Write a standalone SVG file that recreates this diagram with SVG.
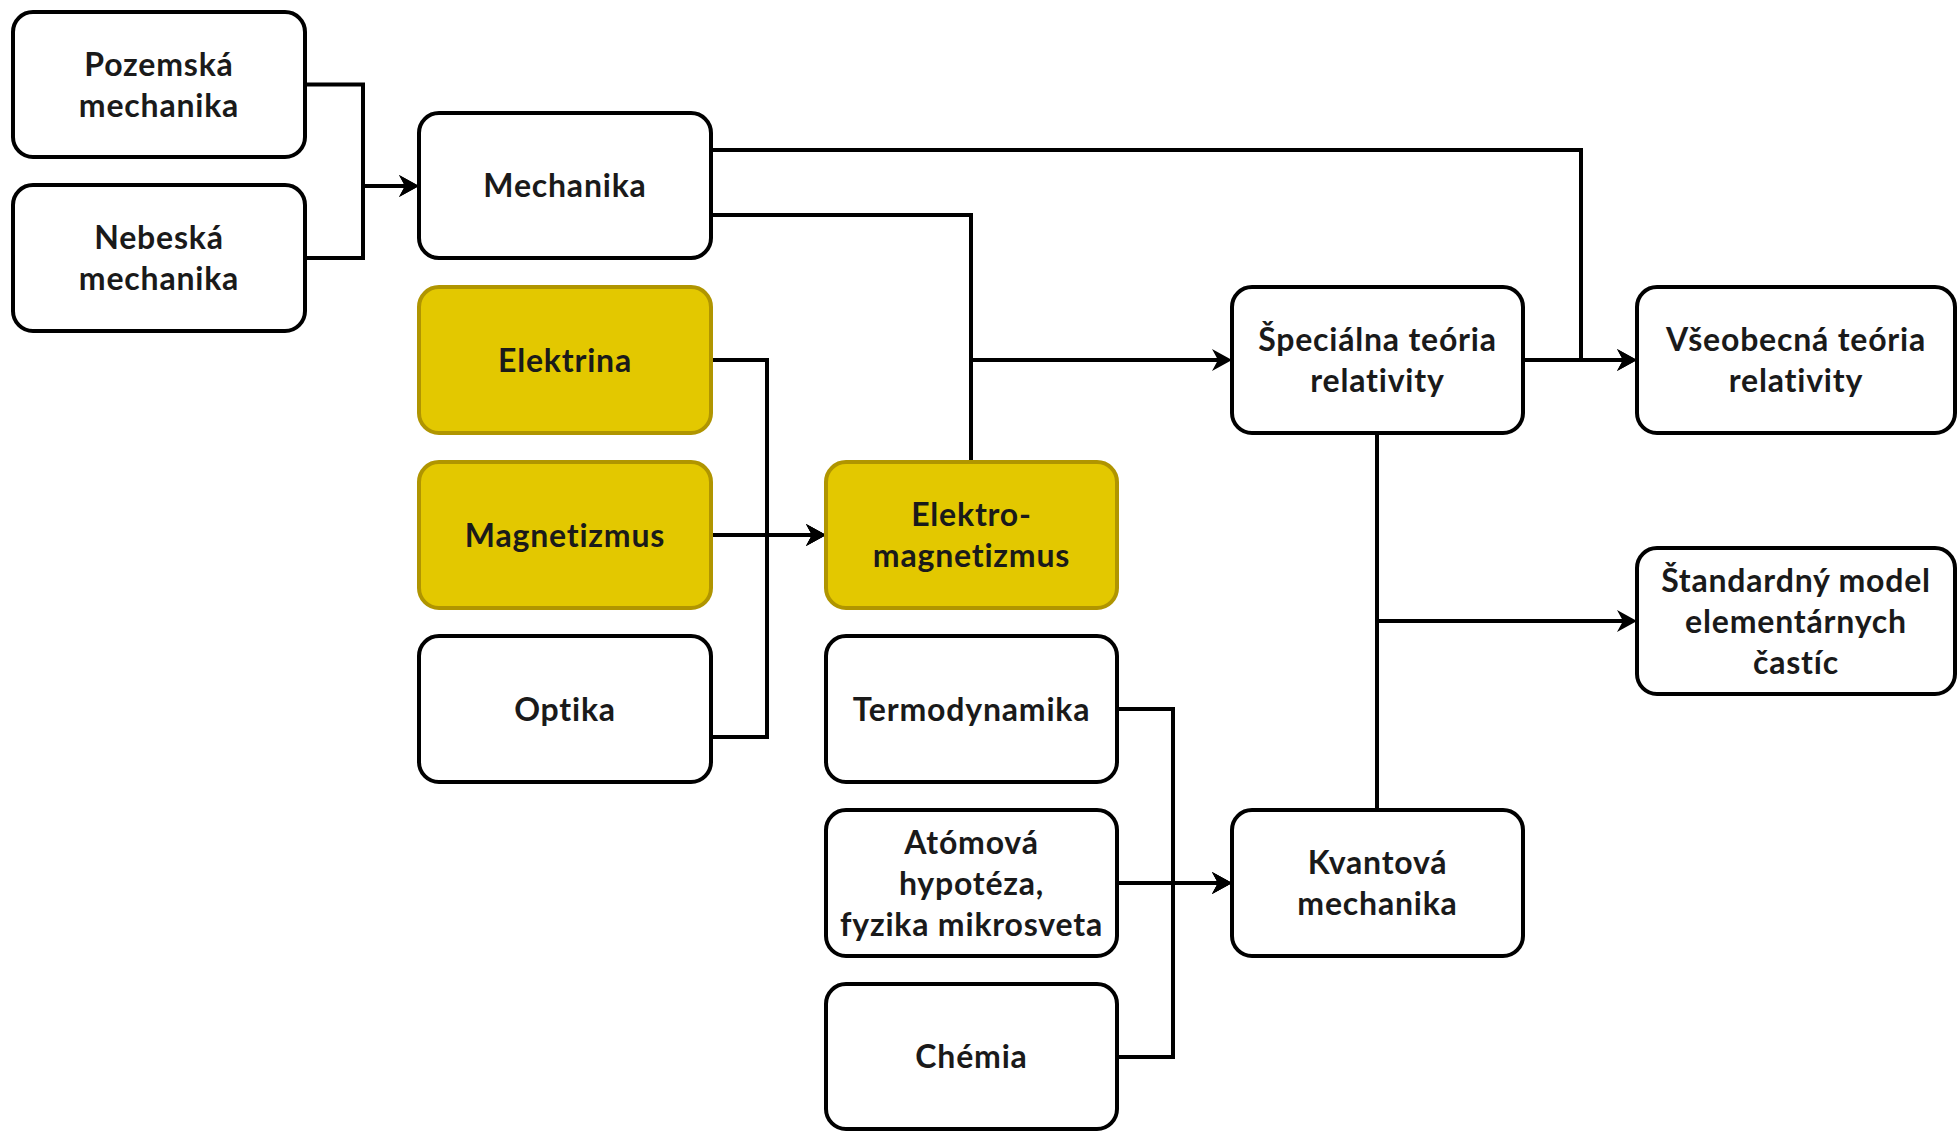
<svg xmlns="http://www.w3.org/2000/svg" width="1957" height="1131" viewBox="0 0 1957 1131">
  <style>
    .box { fill: #ffffff; stroke: #000000; stroke-width: 4; }
    .hl { fill: #e3c800; stroke: #b09500; stroke-width: 4; }
    .lbl { font-family: Lato, "Liberation Sans", sans-serif; font-size: 32px; font-weight: bold; letter-spacing: 0.8px; fill: #1a1a1a; text-anchor: middle; }
    .edge { fill: none; stroke: #000000; stroke-width: 4; stroke-linejoin: miter; }
    .arr { marker-end: url(#head); }
  </style>
  <defs>
    <marker id="head" markerUnits="userSpaceOnUse" viewBox="-8 -12 24 24" refX="0" refY="0" markerWidth="24" markerHeight="24" orient="auto">
      <path d="M -6 -11 L 14 0 L -6 11 L 0 0 Z" fill="#000000"/>
    </marker>
  </defs>
  <rect width="1957" height="1131" fill="#ffffff"/>

  <!-- connectors -->
  <g id="connectors">
    <path class="edge arr" d="M305 84.5 H363 V186 H405"/>
    <path class="edge arr" d="M305 258 H363 V186 H405"/>
    <path class="edge arr" d="M711 150 H1581 V360 H1623"/>
    <path class="edge arr" d="M711 215 H971 V360 H1218"/>
    <path class="edge" d="M971 462 V360"/>
    <path class="edge arr" d="M711 360 H767 V535 H812"/>
    <path class="edge arr" d="M711 535 H812"/>
    <path class="edge arr" d="M711 737 H767 V535 H812"/>
    <path class="edge arr" d="M1117 709 H1173 V883 H1218"/>
    <path class="edge arr" d="M1117 883 H1218"/>
    <path class="edge arr" d="M1117 1057 H1173 V883 H1218"/>
    <path class="edge arr" d="M1523 360 H1623"/>
    <path class="edge arr" d="M1377 433 V621 H1623"/>
    <path class="edge" d="M1377 810 V621"/>
  </g>

  <!-- nodes -->
  <g id="pozemska">
    <rect class="box" x="13" y="12" width="292" height="145" rx="20"/>
    <text class="lbl" x="159" y="76">Pozemská</text>
    <text class="lbl" x="159" y="117">mechanika</text>
  </g>
  <g id="nebeska">
    <rect class="box" x="13" y="185" width="292" height="146" rx="20"/>
    <text class="lbl" x="159" y="249">Nebeská</text>
    <text class="lbl" x="159" y="290">mechanika</text>
  </g>
  <g id="mechanika">
    <rect class="box" x="419" y="113" width="292" height="145" rx="20"/>
    <text class="lbl" x="565" y="197">Mechanika</text>
  </g>
  <g id="elektrina">
    <rect class="hl" x="419" y="287" width="292" height="146" rx="20"/>
    <text class="lbl" x="565" y="371.5">Elektrina</text>
  </g>
  <g id="magnetizmus">
    <rect class="hl" x="419" y="462" width="292" height="146" rx="20"/>
    <text class="lbl" x="565" y="546.5">Magnetizmus</text>
  </g>
  <g id="optika">
    <rect class="box" x="419" y="636" width="292" height="146" rx="20"/>
    <text class="lbl" x="565" y="720.5">Optika</text>
  </g>
  <g id="elektromagnetizmus">
    <rect class="hl" x="826" y="462" width="291" height="146" rx="20"/>
    <text class="lbl" x="971.5" y="526">Elektro-</text>
    <text class="lbl" x="971.5" y="567">magnetizmus</text>
  </g>
  <g id="termodynamika">
    <rect class="box" x="826" y="636" width="291" height="146" rx="20"/>
    <text class="lbl" x="971.5" y="720.5">Termodynamika</text>
  </g>
  <g id="atomova">
    <rect class="box" x="826" y="810" width="291" height="146" rx="20"/>
    <text class="lbl" x="971.5" y="853.5">Atómová</text>
    <text class="lbl" x="971.5" y="894.5">hypotéza,</text>
    <text class="lbl" x="971.5" y="935.5">fyzika mikrosveta</text>
  </g>
  <g id="chemia">
    <rect class="box" x="826" y="984" width="291" height="145" rx="20"/>
    <text class="lbl" x="971.5" y="1068">Chémia</text>
  </g>
  <g id="specialna">
    <rect class="box" x="1232" y="287" width="291" height="146" rx="20"/>
    <text class="lbl" x="1377.5" y="351">Špeciálna teória</text>
    <text class="lbl" x="1377.5" y="392">relativity</text>
  </g>
  <g id="kvantova">
    <rect class="box" x="1232" y="810" width="291" height="146" rx="20"/>
    <text class="lbl" x="1377.5" y="874">Kvantová</text>
    <text class="lbl" x="1377.5" y="915">mechanika</text>
  </g>
  <g id="vseobecna">
    <rect class="box" x="1637" y="287" width="318" height="146" rx="20"/>
    <text class="lbl" x="1796" y="351">Všeobecná teória</text>
    <text class="lbl" x="1796" y="392">relativity</text>
  </g>
  <g id="standardny">
    <rect class="box" x="1637" y="548" width="318" height="146" rx="20"/>
    <text class="lbl" x="1796" y="591.5">Štandardný model</text>
    <text class="lbl" x="1796" y="632.5">elementárnych</text>
    <text class="lbl" x="1796" y="673.5">častíc</text>
  </g>
</svg>
